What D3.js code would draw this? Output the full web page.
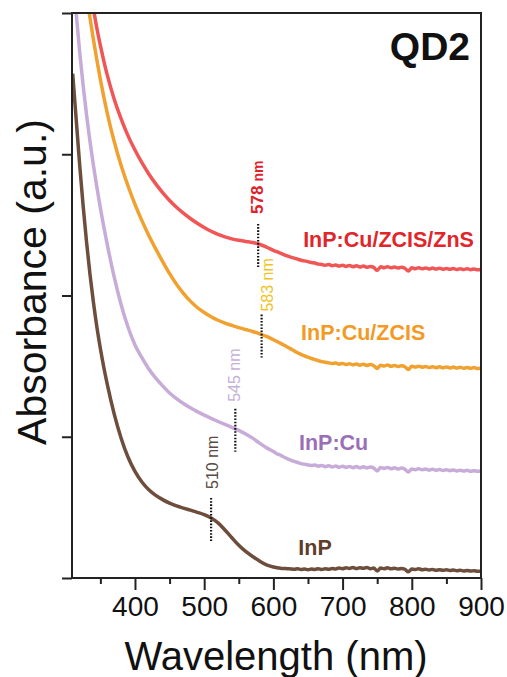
<!DOCTYPE html>
<html>
<head>
<meta charset="utf-8">
<script src="https://cdn.jsdelivr.net/npm/d3@7"></script>
<style>
  body { margin: 0; background: #fff; }
  svg { display: block; font-family: 'Liberation Sans', Arial, sans-serif; }
</style>
</head>
<body>
<svg id="chart" width="507" height="677"></svg>
<script>
// wavelength grid (nm)
const wavelength = [
  310, 315, 320, 325, 330, 335, 340, 345, 350, 355, 360,
  370, 380, 390, 400, 410, 420, 430, 440, 450, 460, 470, 480, 490, 500, 510, 520, 530, 540, 550, 560, 570, 580, 590,
  600, 605, 610, 615, 620, 625, 630, 635, 640, 645, 650, 655, 660, 665, 670, 675, 680, 685, 690, 695,
  700, 705, 710, 715, 720, 725, 730, 735, 740, 745, 750, 755, 760, 765, 770, 775, 780, 785, 790, 795,
  800, 805, 810, 815, 820, 825, 830, 835, 840, 845, 850, 855, 860, 865, 870, 875, 880, 885, 890, 895, 900];

// absorbance, offset traces (a.u.)
const inp = [
  3.57, 3.25, 2.93, 2.64, 2.38, 2.15, 1.95, 1.775, 1.625, 1.49, 1.37,
  1.16, 0.99, 0.855, 0.755, 0.68, 0.625, 0.585, 0.555, 0.53, 0.51, 0.495, 0.48, 0.465, 0.448, 0.425, 0.39, 0.34, 0.285, 0.232, 0.188, 0.152, 0.12, 0.093,
  0.078, 0.073, 0.069, 0.067, 0.066, 0.064, 0.062, 0.065, 0.060, 0.063, 0.059, 0.064, 0.061, 0.066, 0.060, 0.065, 0.062, 0.068, 0.064, 0.071,
  0.066, 0.072, 0.068, 0.074, 0.067, 0.073, 0.069, 0.075, 0.066, 0.071, 0.050, 0.070, 0.066, 0.072, 0.065, 0.069, 0.064, 0.068, 0.062, 0.044,
  0.063, 0.060, 0.065, 0.059, 0.062, 0.057, 0.061, 0.055, 0.059, 0.054, 0.058, 0.053, 0.056, 0.051, 0.055, 0.050, 0.053, 0.049, 0.052, 0.047, 0.048];

const inpCu = [
  4.30, 4.00, 3.73, 3.49, 3.28, 3.09, 2.92, 2.765, 2.62, 2.485, 2.36,
  2.13, 1.935, 1.775, 1.65, 1.56, 1.48, 1.415, 1.36, 1.31, 1.27, 1.235, 1.205, 1.178, 1.153, 1.13, 1.108, 1.087, 1.067, 1.045, 1.02, 0.99, 0.955, 0.922,
  0.895, 0.88, 0.87, 0.857, 0.845, 0.835, 0.825, 0.818, 0.81, 0.806, 0.80, 0.797, 0.80, 0.792, 0.797, 0.788, 0.795, 0.786, 0.793, 0.784,
  0.791, 0.783, 0.79, 0.781, 0.789, 0.78, 0.787, 0.779, 0.786, 0.778, 0.758, 0.782, 0.776, 0.783, 0.774, 0.78, 0.772, 0.778, 0.77, 0.75,
  0.772, 0.767, 0.774, 0.766, 0.771, 0.764, 0.77, 0.762, 0.768, 0.761, 0.766, 0.76, 0.765, 0.758, 0.763, 0.757, 0.762, 0.756, 0.76, 0.755, 0.757];

const inpCuZcis = [
  4.92, 4.70, 4.50, 4.31, 4.13, 3.965, 3.81, 3.665, 3.53, 3.405, 3.29,
  3.09, 2.92, 2.775, 2.645, 2.53, 2.425, 2.33, 2.24, 2.155, 2.08, 2.015, 1.96, 1.915, 1.88, 1.85, 1.825, 1.805, 1.788, 1.773, 1.759, 1.745, 1.729, 1.71,
  1.687, 1.675, 1.663, 1.65, 1.636, 1.622, 1.608, 1.595, 1.583, 1.572, 1.563, 1.554, 1.546, 1.539, 1.532, 1.527, 1.523, 1.518, 1.522, 1.514,
  1.519, 1.511, 1.517, 1.509, 1.515, 1.507, 1.513, 1.505, 1.511, 1.503, 1.483, 1.507, 1.501, 1.508, 1.499, 1.505, 1.497, 1.503, 1.496, 1.476,
  1.499, 1.493, 1.50, 1.492, 1.498, 1.49, 1.496, 1.489, 1.495, 1.488, 1.494, 1.487, 1.493, 1.486, 1.492, 1.485, 1.491, 1.484, 1.49, 1.483, 1.486];

const inpCuZcisZns = [
  5.25, 5.00, 4.77, 4.55, 4.35, 4.18, 4.03, 3.89, 3.77, 3.66, 3.56,
  3.39, 3.25, 3.13, 3.03, 2.94, 2.86, 2.79, 2.728, 2.673, 2.625, 2.583, 2.545, 2.511, 2.481, 2.455, 2.433, 2.415, 2.401, 2.391, 2.383, 2.375, 2.363, 2.343,
  2.32, 2.31, 2.30, 2.29, 2.28, 2.272, 2.265, 2.257, 2.25, 2.245, 2.24, 2.233, 2.23, 2.222, 2.22, 2.214, 2.219, 2.211, 2.216, 2.208,
  2.214, 2.206, 2.212, 2.204, 2.21, 2.202, 2.208, 2.20, 2.206, 2.199, 2.178, 2.203, 2.197, 2.204, 2.196, 2.202, 2.194, 2.20, 2.193, 2.173,
  2.196, 2.19, 2.197, 2.189, 2.195, 2.188, 2.194, 2.187, 2.193, 2.186, 2.192, 2.185, 2.191, 2.184, 2.19, 2.184, 2.189, 2.183, 2.188, 2.182, 2.185];

const seriesNames = ['InP', 'InP:Cu', 'InP:Cu/ZCIS', 'InP:Cu/ZCIS/ZnS'];
const seriesValues = [inp, inpCu, inpCuZcis, inpCuZcisZns];
const lineColors = ['#6d4d3b', '#c7abd8', '#f0a12f', '#f05656'];
const labelColors = ['#5f3d2a', '#9a6fb6', '#f29a25', '#e0262b'];

// absorption shoulder markers
const peakNm = [510, 545, 583, 578];
const peakColors = ['#5a4a42', '#c4b2da', '#f2c21e', '#e0222a'];

const xTicks = [400, 500, 600, 700, 800, 900];
const xMinorTicks = [350, 450, 550, 650, 750, 850];
const yTicks = [0, 1, 2, 3, 4];

const svg = d3.select('#chart');
const margin = { top: 13, right: 26, bottom: 99, left: 72 };
const width = 507;
const height = 677;

const x = d3.scaleLinear()
  .domain([309, 900])
  .range([margin.left, width - margin.right]);

const y = d3.scaleLinear()
  .domain([0, 4])
  .range([height - margin.bottom, margin.top]);

svg.append('clipPath')
  .attr('id', 'plotClip')
  .append('rect')
    .attr('x', margin.left)
    .attr('y', margin.top)
    .attr('width', x.range()[1] - margin.left)
    .attr('height', y(0) - margin.top);

// curves
const line = d3.line()
  .x((d, i) => x(wavelength[i]))
  .y(d => y(d))
  .curve(d3.curveMonotoneX);

svg.append('g')
  .attr('clip-path', 'url(#plotClip)')
  .selectAll('path')
  .data(seriesValues)
  .join('path')
    .attr('fill', 'none')
    .attr('stroke', (d, i) => lineColors[i])
    .attr('stroke-width', 3.5)
    .attr('stroke-linejoin', 'round')
    .attr('d', line);

// dotted markers + rotated labels
function valueAt(vals, nm) {
  const i = d3.bisectLeft(wavelength, nm);
  const t = (nm - wavelength[i - 1]) / (wavelength[i] - wavelength[i - 1]);
  return vals[i - 1] + t * (vals[i] - vals[i - 1]);
}
const textShift = [1, -1, 6, -1];
const textGap = [9, 7, 3, 10];

peakNm.forEach((nm, i) => {
  const cx = x(nm);
  const cy = y(valueAt(seriesValues[i], nm));
  const top = cy - 20;
  svg.append('line')
    .attr('x1', cx).attr('x2', cx)
    .attr('y1', top).attr('y2', cy + 23)
    .attr('stroke', '#111')
    .attr('stroke-width', 2.2)
    .attr('stroke-dasharray', '1.6,1.6');
  const big = i === 3;
  const t = svg.append('text')
    .attr('transform', `translate(${cx + textShift[i]},${top - textGap[i]}) rotate(-90)`)
    .attr('dy', '0.36em')
    .attr('fill', peakColors[i])
    .attr('font-size', big ? 17 : 16)
    .attr('font-weight', big ? 'bold' : 'normal');
  t.append('tspan').text(nm);
  t.append('tspan')
    .attr('font-size', big ? 14 : 16)
    .text(' nm');
});

// series labels
const labelNm = [636, 637, 640, 643];
const labelVal = [0.163, 0.906, 1.685, 2.34];
svg.append('g')
  .selectAll('text')
  .data(seriesNames)
  .join('text')
    .attr('x', (d, i) => x(labelNm[i]))
    .attr('y', (d, i) => y(labelVal[i]))
    .attr('fill', (d, i) => labelColors[i])
    .attr('font-size', 21.5)
    .attr('font-weight', 'bold')
    .text(d => d);

// axes
const xAxis = svg.append('g')
  .attr('transform', `translate(0,${y(0)})`)
  .call(d3.axisBottom(x).tickValues(xTicks).tickSize(12).tickSizeOuter(0).tickPadding(6).tickFormat(d3.format('d')));
xAxis.select('.domain').remove();
xAxis.selectAll('text').attr('font-size', 28).attr('fill', '#111').attr('font-family', "'Liberation Sans', Arial, sans-serif");
xAxis.selectAll('line').attr('stroke', '#222').attr('stroke-width', 2);

svg.append('g')
  .attr('transform', `translate(0,${y(0)})`)
  .call(d3.axisBottom(x).tickValues(xMinorTicks).tickSize(6).tickSizeOuter(0).tickFormat(''))
  .call(g => g.select('.domain').remove())
  .selectAll('line').attr('stroke', '#222').attr('stroke-width', 2);

svg.append('g')
  .attr('transform', `translate(${margin.left},0)`)
  .call(d3.axisLeft(y).tickValues(yTicks).tickSize(10).tickSizeOuter(0).tickFormat(''))
  .call(g => g.select('.domain').remove())
  .selectAll('line').attr('stroke', '#222').attr('stroke-width', 2);

// frame
svg.append('rect')
  .attr('x', margin.left)
  .attr('y', margin.top)
  .attr('width', x.range()[1] - margin.left)
  .attr('height', y(0) - margin.top)
  .attr('fill', 'none')
  .attr('stroke', '#222')
  .attr('stroke-width', 2);

// titles
svg.append('text')
  .attr('x', 276)
  .attr('y', 670)
  .attr('text-anchor', 'middle')
  .attr('font-size', 40)
  .attr('fill', '#111')
  .text('Wavelength (nm)');

svg.append('text')
  .attr('transform', 'translate(46,282) rotate(-90)')
  .attr('text-anchor', 'middle')
  .attr('font-size', 41)
  .attr('fill', '#111')
  .text('Absorbance (a.u.)');

svg.append('text')
  .attr('x', 470)
  .attr('y', 60)
  .attr('text-anchor', 'end')
  .attr('font-size', 39)
  .attr('font-weight', 'bold')
  .attr('fill', '#111')
  .text('QD2');
</script>
</body>
</html>
